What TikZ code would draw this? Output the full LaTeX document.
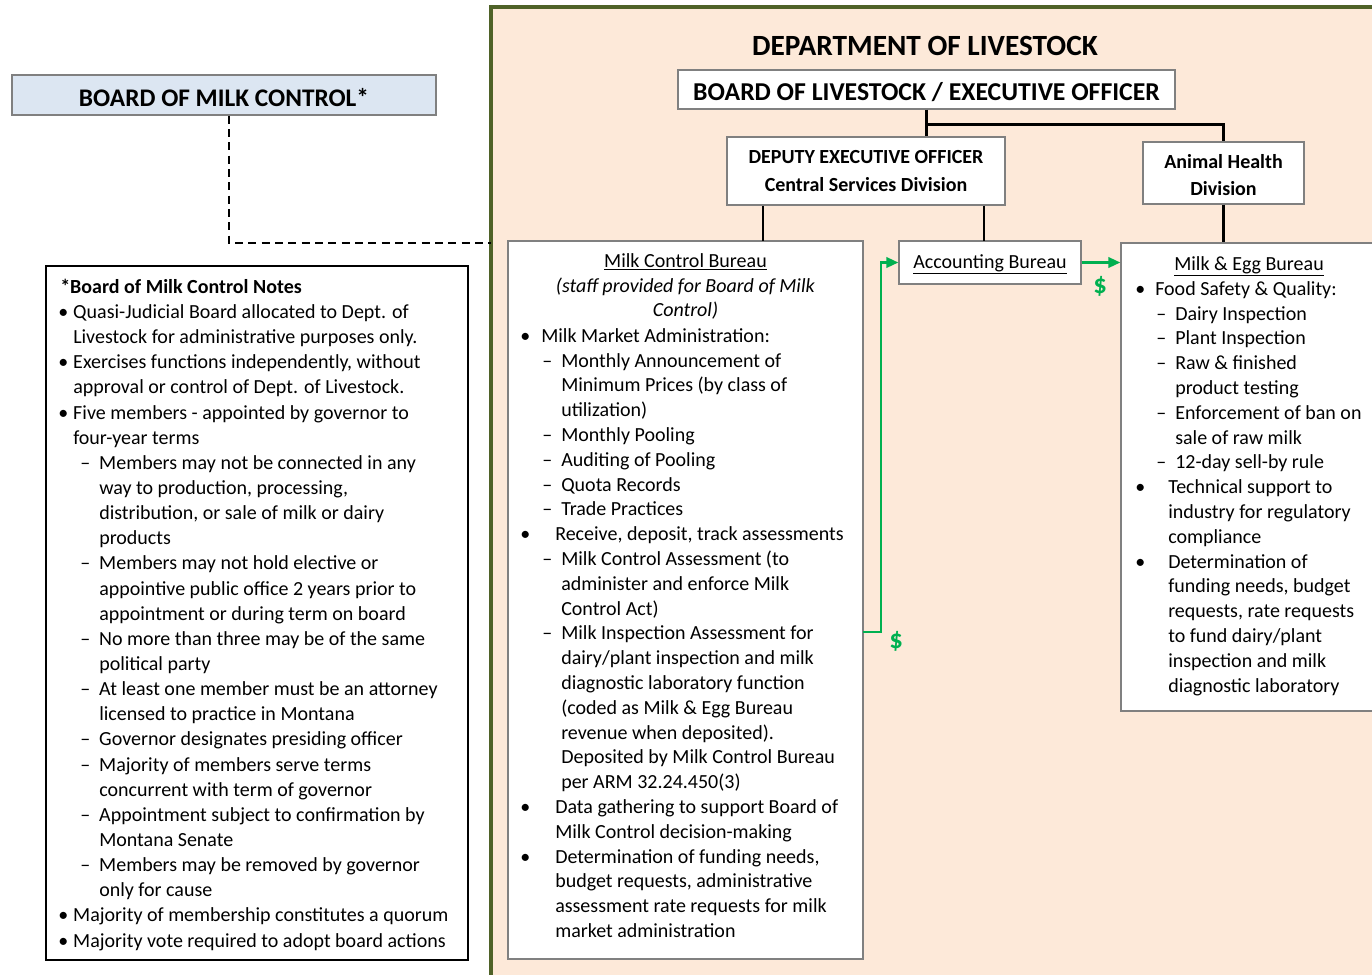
\documentclass[tikz,border=0pt]{standalone}
\usepackage{fontspec}
\setmainfont{Carlito}
\usetikzlibrary{fit, arrows.meta}

\definecolor{deptfill}{RGB}{253,233,217}
\definecolor{deptframe}{RGB}{79,98,40}
\definecolor{boardblue}{RGB}{220,230,242}
\definecolor{boxgray}{RGB}{128,128,128}
\definecolor{moneygreen}{RGB}{0,176,80}

% one pixel of the layout
\newlength{\pxu}\setlength{\pxu}{0.75pt}
% list marks: position of mark, position of text
\newcommand{\bul}[2]{\makebox[0pt][l]{\hspace*{#1\pxu}\makebox[0pt][c]{\textbullet}}\hspace*{#2\pxu}}
\newcommand{\dsh}[2]{\makebox[0pt][l]{\hspace*{#1\pxu}\makebox[0pt][c]{\textendash}}\hspace*{#2\pxu}}
\newcommand{\ind}[1]{\hspace*{#1\pxu}}
\newcommand{\bodyfont}{\fontsize{15}{18.6}\selectfont}

\begin{document}
\begin{tikzpicture}[x=0.75pt, y=-0.75pt,
    every node/.style={inner sep=0pt},
    orgbox/.style={draw=boxgray, line width=1.1pt, fill=white},
    orgtext/.style={align=center, font=\bodyfont\bfseries},
    listtext/.style={anchor=north west, align=left, font=\bodyfont},
    orgline/.style={line width=2.2pt},
    boardlink/.style={line width=2pt, dash pattern=on 6pt off 4pt},
    money/.style={draw=moneygreen, line width=1.6pt, -{Triangle[length=9pt,width=8pt]}},
    dollar/.style={text=moneygreen, font=\fontsize{20}{22}\selectfont\bfseries}]
    \useasboundingbox (0,0) rectangle (1372,975);
    \clip (0,0) rectangle (1372,975);

    % Department frame
    \node [fit={(491,7) (1395,995)}, draw=deptframe, line width=3.5pt, fill=deptfill] (dept) {};
    \node [anchor=base, font=\fontsize{22}{26}\selectfont\bfseries] (depttitle) at (925,55) {DEPARTMENT OF LIVESTOCK};

    % Board of Milk Control
    \node [orgbox, fit={(12,75) (436,115)}, fill=boardblue] (bmc) {};
    \node [anchor=base, font=\fontsize{19}{22}\selectfont\bfseries] (bmctext) at (224,106) {BOARD OF MILK CONTROL*};
    \coordinate (deptin) at (491,243);
    \draw [boardlink] ([xshift=3.75pt]bmc.south) |- (deptin);

    % Notes
    \node [fit={(46,266) (468,960)}, draw, line width=1.5pt, fill=white] (notes) {};
    \node [listtext, font=\fontsize{15}{18.86}\selectfont] (notestext) at (60,275.4) {%
        \strut\textbf{*Board of Milk Control Notes}\\
        \bul{3}{13}Quasi-Judicial Board allocated to Dept. of\\
        \ind{13}Livestock for administrative purposes only.\\
        \bul{3}{13}Exercises functions independently, without\\
        \ind{13}approval or control of Dept. of Livestock.\\
        \bul{3}{13}Five members - appointed by governor to\\
        \ind{13}four-year terms\\
        \dsh{25}{39}Members may not be connected in any\\
        \ind{39}way to production, processing,\\
        \ind{39}distribution, or sale of milk or dairy\\
        \ind{39}products\\
        \dsh{25}{39}Members may not hold elective or\\
        \ind{39}appointive public office 2 years prior to\\
        \ind{39}appointment or during term on board\\
        \dsh{25}{39}No more than three may be of the same\\
        \ind{39}political party\\
        \dsh{25}{39}At least one member must be an attorney\\
        \ind{39}licensed to practice in Montana\\
        \dsh{25}{39}Governor designates presiding officer\\
        \dsh{25}{39}Majority of members serve terms\\
        \ind{39}concurrent with term of governor\\
        \dsh{25}{39}Appointment subject to confirmation by\\
        \ind{39}Montana Senate\\
        \dsh{25}{39}Members may be removed by governor\\
        \ind{39}only for cause\\
        \bul{3}{13}Majority of membership constitutes a quorum\\
        \bul{3}{13}Majority vote required to adopt board actions};

    % Top of the department
    \node [orgbox, fit={(678,70) (1175,109)}] (bol) {};
    \node [anchor=base, font=\fontsize{19.3}{22}\selectfont\bfseries] (boltext) at (926.5,100) {BOARD OF LIVESTOCK / EXECUTIVE OFFICER};
    \node [orgbox, fit={(727,137) (1005,205)}] (dep) {};
    \node [orgtext, font=\fontsize{15}{21}\selectfont\bfseries] (deptext) at (866,171) {DEPUTY EXECUTIVE OFFICER\\Central Services Division};
    \node [orgbox, fit={(1143,142) (1304,204)}] (ahd) {};
    \node [orgtext, font=\fontsize{15}{20}\selectfont\bfseries] (ahdtext) at (1223.5,175) {Animal Health\\Division};

    % Bureaus
    \node [orgbox, fit={(508,241) (863,959)}] (mcb) {};
    \node [orgbox, fit={(899,241) (1081,284)}] (acc) {};
    \node [anchor=base, font=\bodyfont] (acctext) at (990,268) {\underline{Accounting Bureau}};
    \node [orgbox, fit={(1121,243) (1395,711)}] (meb) {};

    % Org lines
    \coordinate (mcbtap) at (763,241);
    \coordinate (acctap) at (984,241);
    \draw [orgline] (bol.south) -- (dep.north -| bol.south);
    \draw [orgline] ([yshift=-11pt]bol.south) -| (ahd.north);
    \draw [orgline] (dep.south -| mcbtap) -- (mcbtap);
    \draw [orgline] (dep.south -| acctap) -- (acctap);
    \draw [orgline] (ahd.south) -- (ahd.south |- meb.north);

    % Milk Control Bureau
    \node [anchor=north, align=center, font=\bodyfont] (mcbhead) at (685.5,249.6) {%
        \strut\underline{Milk Control Bureau}\\
        \textit{(staff provided for Board of Milk}\\
        \textit{Control)}};
    \node [listtext] (mcbtext) at (516,324.6) {%
        \strut\bul{9}{25}Milk Market Administration:\\
        \dsh{31}{45}Monthly Announcement of\\
        \ind{45}Minimum Prices (by class of\\
        \ind{45}utilization)\\
        \dsh{31}{45}Monthly Pooling\\
        \dsh{31}{45}Auditing of Pooling\\
        \dsh{31}{45}Quota Records\\
        \dsh{31}{45}Trade Practices\\
        \bul{9}{39}Receive, deposit, track assessments\\
        \dsh{31}{45}Milk Control Assessment (to\\
        \ind{45}administer and enforce Milk\\
        \ind{45}Control Act)\\
        \dsh{31}{45}Milk Inspection Assessment for\\
        \ind{45}dairy/plant inspection and milk\\
        \ind{45}diagnostic laboratory function\\
        \ind{45}(coded as Milk \& Egg Bureau\\
        \ind{45}revenue when deposited).\\
        \ind{45}Deposited by Milk Control Bureau\\
        \ind{45}per ARM 32.24.450(3)\\
        \bul{9}{39}Data gathering to support Board of\\
        \ind{39}Milk Control decision-making\\
        \bul{9}{39}Determination of funding needs,\\
        \ind{39}budget requests, administrative\\
        \ind{39}assessment rate requests for milk\\
        \ind{39}market administration};

    % Milk & Egg Bureau
    \node [anchor=base, font=\bodyfont] (mebhead) at (1249,270) {\underline{Milk \& Egg Bureau}};
    \node [listtext] (mebtext) at (1130,277.6) {%
        \strut\bul{10}{25}Food Safety \& Quality:\\
        \dsh{31}{45}Dairy Inspection\\
        \dsh{31}{45}Plant Inspection\\
        \dsh{31}{45}Raw \& finished\\
        \ind{45}product testing\\
        \dsh{31}{45}Enforcement of ban on\\
        \ind{45}sale of raw milk\\
        \dsh{31}{45}12-day sell-by rule\\
        \bul{10}{38}Technical support to\\
        \ind{38}industry for regulatory\\
        \ind{38}compliance\\
        \bul{10}{38}Determination of\\
        \ind{38}funding needs, budget\\
        \ind{38}requests, rate requests\\
        \ind{38}to fund dairy/plant\\
        \ind{38}inspection and milk\\
        \ind{38}diagnostic laboratory};

    % Money flow
    \coordinate (mcbout) at (863,632);
    \draw [money] (mcbout) -- ++(18,0) |- (acc.west);
    \draw [money] (acc.east) -- (meb.west |- acc.east);
    \node [dollar] (dollarmcb) at (896,641) {\$};
    \node [dollar] (dollaracc) at (1100,286) {\$};
\end{tikzpicture}
\end{document}
